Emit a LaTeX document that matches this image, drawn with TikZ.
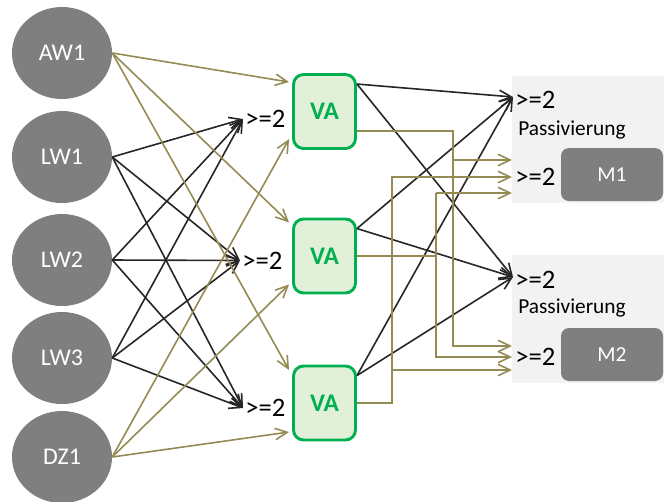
\documentclass[tikz,border=0pt]{standalone}
\usepackage{fontspec}
\setmainfont{Carlito}
\usetikzlibrary{shapes.geometric,arrows.meta,calc}
\definecolor{srcgray}{HTML}{7F7F7F}
\definecolor{panelgray}{HTML}{F2F2F2}
\definecolor{vagreen}{HTML}{00B050}
\definecolor{vafill}{HTML}{E2F0D9}
\definecolor{linkolive}{HTML}{948A54}
\definecolor{linkblack}{HTML}{262626}
\begin{document}
\begin{tikzpicture}[x=0.75pt,y=-0.75pt,
  src/.style={ellipse, fill=srcgray, minimum width=75pt, minimum height=69pt,
    inner sep=0pt, text=white, font=\fontsize{18}{20}\selectfont},
  vabox/.style={rectangle, rounded corners=7.5pt, draw=vagreen, line width=2.2pt,
    fill=vafill, minimum width=46.5pt, minimum height=55.5pt, inner sep=0pt,
    text=vagreen, font=\bfseries\fontsize{19}{21}\selectfont},
  vote/.style={anchor=west, inner xsep=1.5pt, inner ysep=0pt,
    font=\fontsize{20}{22}\selectfont},
  note/.style={anchor=west, inner sep=0pt, font=\fontsize{16}{18}\selectfont},
  mbox/.style={rectangle, rounded corners=6pt, fill=srcgray, minimum width=76.5pt,
    minimum height=39.75pt, inner sep=0pt, text=white, font=\fontsize{16}{18}\selectfont},
  panel/.style={fill=panelgray},
  tip/.style={-{Straight Barb[length=9pt,width=8.5pt]}},
  feed/.style={draw=linkolive, line width=1.2pt},
  ctrl/.style={draw=linkblack, line width=1.2pt, tip},
  ofeed/.style={feed, tip}]
\useasboundingbox (0,0) rectangle (664,501);

% grey panels behind the two output groups
\fill[panel] (512,76) rectangle (664,203);
\fill[panel] (512,255) rectangle (664,383);

% input sources
\node[src] (aw1) at (62,53)  {AW1};
\node[src] (lw1) at (62,157) {LW1};
\node[src] (lw2) at (62,260) {LW2};
\node[src] (lw3) at (62,358) {LW3};
\node[src] (dz1) at (62,457) {DZ1};

% 2-out-of-3 votes in front of the VA units
\node[vote] (ge1) at (243,119) {>=2};
\node[vote] (ge2) at (240,260.5) {>=2};
\node[vote] (ge3) at (243,408) {>=2};

% VA units
\node[vabox] (va1) at (324.5,111.5) {VA};
\node[vabox] (va2) at (324.5,256) {VA};
\node[vabox] (va3) at (324.5,403)   {VA};

% output groups
\node[vote] (gp1) at (513,100) {>=2};
\node[note] (pa1) at (518,130) {Passivierung};
\node[vote] (gm1) at (513,177) {>=2};
\node[mbox] (m1) at (612,174.5) {M1};

\node[vote] (gp2) at (513,280) {>=2};
\node[note] (pa2) at (518,308) {Passivierung};
\node[vote] (gm2) at (513,357) {>=2};
\node[mbox] (m2) at (612,354.5) {M2};

% LW sources into the votes
\foreach \s in {lw1,lw2,lw3}
  \foreach \g in {ge1,ge2,ge3}
    \draw[ctrl] (\s.east) -- (\g.west);

% AW1 and DZ1 directly into the VA units
\draw[ofeed] (aw1.east) -- ($(va1.west)+(-3,-29.5)$);
\draw[ofeed] (aw1.east) -- ($(va2.west)+(-3,-33.5)$);
\draw[ofeed] (aw1.east) -- ($(va3.west)+(-3,-33)$);
\draw[ofeed] (dz1.east) -- ($(va1.west)+(-3,27.5)$);
\draw[ofeed] (dz1.east) -- ($(va2.west)+(-3,28.5)$);
\draw[ofeed] (dz1.east) -- ($(va3.west)+(-3,29)$);

% VA units into the passivation votes
\foreach \v in {va1,va2,va3}
  \foreach \g in {gp1,gp2}
    \draw[ctrl] ($(\v.north east)+(0,11)$) -- ($(\g.west)+(0,-3)$);

% routed feeds into the M1/M2 votes
\coordinate (m1a) at ($(gm1.west)+(-1,-17)$);
\coordinate (m1b) at ($(gm1.west)+(-1,0)$);
\coordinate (m1c) at ($(gm1.west)+(-1,16)$);
\coordinate (m2a) at ($(gm2.west)+(-1,-11)$);
\coordinate (m2b) at ($(gm2.west)+(-1,0)$);
\coordinate (m2c) at ($(gm2.west)+(-1,13)$);
\coordinate (bus1) at (453,0);
\coordinate (bus2) at (436,0);
\coordinate (bus3) at (392,0);

\draw[ofeed] ($(va1.east)+(0,19.5)$) -| (bus1 |- m2a) -- (m2a);
\draw[ofeed] (bus1 |- m1a) -- (m1a);

\draw[feed] (va2.east) -- (bus2 |- va2.east);
\draw[ofeed] (bus2 |- m1c) -- (m1c);
\draw[ofeed] (bus2 |- m1c) -- (bus2 |- m2b) -- (m2b);

\draw[ofeed] (va3.east) -| (bus3 |- m1b) -- (m1b);
\draw[ofeed] (bus3 |- m2c) -- (m2c);
\end{tikzpicture}
\end{document}
